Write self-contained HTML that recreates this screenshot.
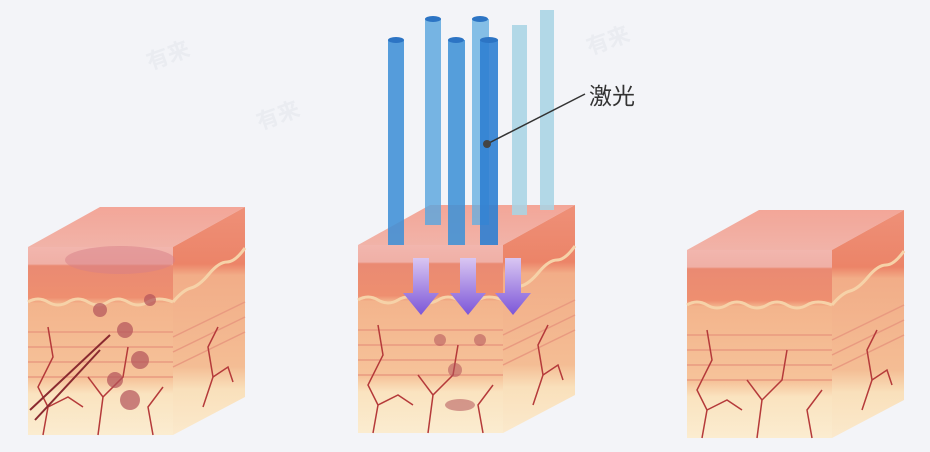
<!DOCTYPE html>
<html><head><meta charset="utf-8"><style>
html,body{margin:0;padding:0;background:#f3f4f8;}
svg{display:block}
</style></head><body>
<svg width="930" height="452" viewBox="0 0 930 452" xmlns="http://www.w3.org/2000/svg">
<defs>
<linearGradient id="front" x1="0" y1="0" x2="0" y2="1">
<stop offset="0" stop-color="#f2b6ae"/><stop offset="0.09" stop-color="#f0b0a6"/>
<stop offset="0.1" stop-color="#ea8a72"/><stop offset="0.27" stop-color="#ee8f70"/>
<stop offset="0.3" stop-color="#f3b48c"/><stop offset="0.7" stop-color="#f6c39a"/>
<stop offset="0.78" stop-color="#fae3bf"/><stop offset="1" stop-color="#fbecd0"/>
</linearGradient>
<linearGradient id="side" x1="0" y1="0" x2="0" y2="1">
<stop offset="0" stop-color="#ee9078"/><stop offset="0.25" stop-color="#ec8468"/>
<stop offset="0.3" stop-color="#f2ad88"/><stop offset="0.7" stop-color="#f4bd94"/>
<stop offset="0.8" stop-color="#f9e0bb"/><stop offset="1" stop-color="#fbe9cc"/>
</linearGradient>
<linearGradient id="top" x1="0" y1="0" x2="0" y2="1">
<stop offset="0" stop-color="#f3a698"/><stop offset="1" stop-color="#f1b3a8"/>
</linearGradient>
<linearGradient id="arr" x1="0" y1="0" x2="0" y2="1">
<stop offset="0" stop-color="#d9c6f2"/><stop offset="1" stop-color="#7c56d8"/>
</linearGradient>
<g id="cube">
<polygon points="0,40 72,0 217,0 145,40" fill="url(#top)"/>
<polygon points="0,40 145,40 145,228 0,228" fill="url(#front)"/>
<polygon points="145,40 217,0 217,190 145,228" fill="url(#side)"/>
<path d="M0,95 q10,-6 20,0 t20,0 t20,0 t20,0 t20,0 t20,0 t25,0" stroke="#f6d2a8" stroke-width="3" fill="none"/>
<path d="M145,95 q10,-12 18,-14 t18,-14 t18,-12 t18,-14" stroke="#f6d2a8" stroke-width="3" fill="none"/>
<g stroke="#e99a80" stroke-width="1.5">
<line x1="0" y1="125" x2="145" y2="125"/><line x1="0" y1="140" x2="145" y2="140"/>
<line x1="0" y1="155" x2="145" y2="155"/><line x1="0" y1="170" x2="145" y2="170"/>
<line x1="145" y1="130" x2="217" y2="95"/><line x1="145" y1="145" x2="217" y2="110"/>
<line x1="145" y1="160" x2="217" y2="125"/>
</g>
<g stroke="#b53a3a" stroke-width="1.5" fill="none">
<path d="M15,228 L20,200 L10,180 L25,150 L20,120"/><path d="M20,200 L40,190 L55,200"/>
<path d="M70,228 L75,190 L95,170 L100,140"/><path d="M75,190 L60,170"/>
<path d="M125,228 L120,200 L135,180"/><path d="M175,200 L185,170 L180,140 L190,120"/>
<path d="M185,170 L200,160 L205,175"/>
</g>
</g>
</defs>
<g font-family="Liberation Sans,'Noto Sans CJK SC',sans-serif" fill="#eaecf1" font-size="22" font-weight="bold">
<text x="150" y="70" transform="rotate(-20 150 70)">有来</text>
<text x="590" y="55" transform="rotate(-20 590 55)">有来</text>
<text x="260" y="130" transform="rotate(-20 260 130)">有来</text>
</g>
<use href="#cube" x="28" y="207"/>
<use href="#cube" x="358" y="205"/>
<use href="#cube" x="687" y="210"/>
<g fill="#b3535a" opacity="0.7">
<circle cx="100" cy="310" r="7"/><circle cx="125" cy="330" r="8"/><circle cx="140" cy="360" r="9"/>
<circle cx="115" cy="380" r="8"/><circle cx="150" cy="300" r="6"/><circle cx="130" cy="400" r="10"/>
</g>
<ellipse cx="120" cy="260" rx="55" ry="14" fill="#d87f88" opacity="0.5"/>
<line x1="30" y1="410" x2="110" y2="335" stroke="#8a2a30" stroke-width="2"/>
<line x1="35" y1="420" x2="100" y2="350" stroke="#8a2a30" stroke-width="2"/>
<g fill="#b3535a" opacity="0.55">
<circle cx="440" cy="340" r="6"/><circle cx="455" cy="370" r="7"/><circle cx="480" cy="340" r="6"/>
<ellipse cx="460" cy="405" rx="15" ry="6"/>
</g>
<g>
<rect x="388" y="40" width="16" height="205" fill="#3f90d6" opacity="0.88"/>
<rect x="425" y="19" width="16" height="206" fill="#5aa6de" opacity="0.82"/>
<rect x="448" y="40" width="17" height="205" fill="#3f92d6" opacity="0.88"/>
<rect x="472" y="19" width="17" height="206" fill="#64aee0" opacity="0.78"/>
<rect x="480" y="40" width="18" height="205" fill="#2f80d2" opacity="0.9"/>
<rect x="512" y="25" width="15" height="190" fill="#a8d4e4" opacity="0.88"/>
<rect x="540" y="10" width="14" height="200" fill="#a8d4e4" opacity="0.88"/>
<g fill="#2c74c4"><ellipse cx="396" cy="40" rx="8" ry="3"/><ellipse cx="433" cy="19" rx="8" ry="3"/><ellipse cx="456" cy="40" rx="8" ry="3"/><ellipse cx="480" cy="19" rx="8" ry="3"/><ellipse cx="489" cy="40" rx="9" ry="3"/></g>
</g>
<g fill="url(#arr)">
<path d="M413,258 h16 v35 h10 l-18,22 l-18,-22 h10z"/>
<path d="M460,258 h16 v35 h10 l-18,22 l-18,-22 h10z"/>
<path d="M505,258 h16 v35 h10 l-18,22 l-18,-22 h10z"/>
</g>
<line x1="487" y1="144" x2="585" y2="94" stroke="#333" stroke-width="1.5"/>
<circle cx="487" cy="144" r="4" fill="#444"/>
<text x="589" y="104" font-family="Liberation Sans,'Noto Sans CJK SC',sans-serif" font-size="23" fill="#333">激光</text>
</svg>
</body></html>
